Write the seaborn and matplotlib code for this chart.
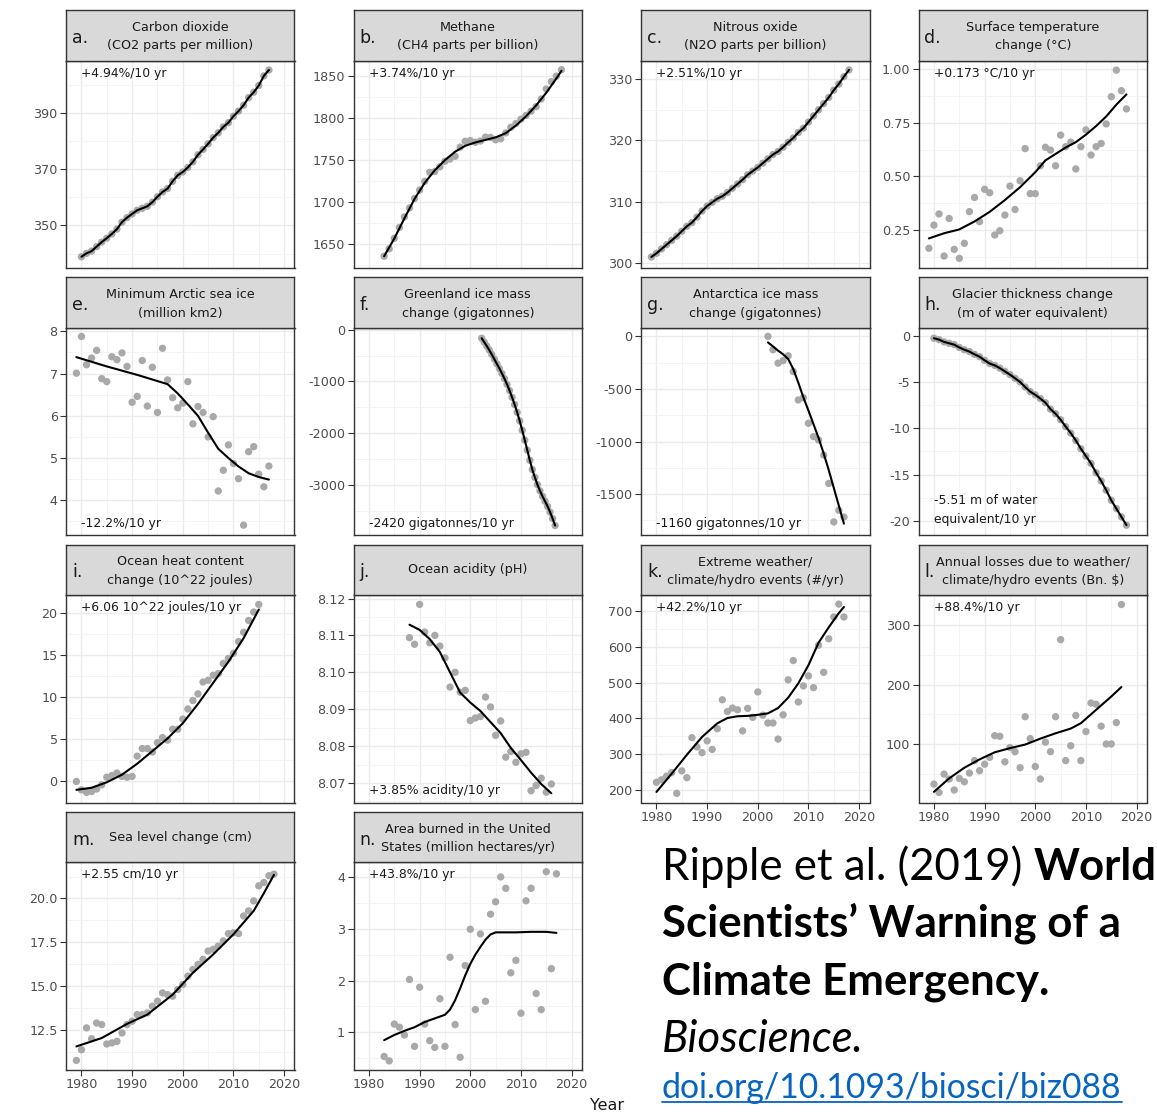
import numpy as np
import matplotlib
matplotlib.use("Agg")
import matplotlib.pyplot as plt
import seaborn as sns
from matplotlib.ticker import MultipleLocator, AutoMinorLocator, FixedLocator, FormatStrFormatter
from matplotlib.transforms import blended_transform_factory
from matplotlib.lines import Line2D

# ---------------------------------------------------------------- data
YEARS = [1979, 1980, 1981, 1982, 1983, 1984, 1985, 1986, 1987, 1988,
         1989, 1990, 1991, 1992, 1993, 1994, 1995, 1996, 1997, 1998,
         1999, 2000, 2001, 2002, 2003, 2004, 2005, 2006, 2007, 2008,
         2009, 2010, 2011, 2012, 2013, 2014, 2015, 2016, 2017, 2018]

# a. CO2 (1980-2017)
co2_years = YEARS[1:39]
co2 = [338.9, 340.1, 340.9, 342.5, 344.1, 345.5, 347.0, 348.7, 351.2, 352.8,
       354.1, 355.4, 356.1, 356.8, 358.3, 360.2, 361.9, 363.1, 365.7, 367.8,
       369.0, 370.6, 372.6, 375.1, 377.0, 379.0, 381.2, 382.9, 385.0, 386.5,
       388.8, 390.6, 392.7, 395.4, 397.3, 399.7, 403.1, 405.2]

# b. CH4 (1983-2018)
ch4_years = YEARS[4:40]
ch4 = [1636.0, 1644.8, 1657.3, 1670.1, 1682.7, 1693.3, 1704.5, 1714.4, 1724.8, 1735.5,
       1736.5, 1742.1, 1748.6, 1751.3, 1754.6, 1765.5, 1772.4, 1773.2, 1771.2, 1772.7,
       1777.3, 1777.0, 1774.2, 1775.3, 1782.3, 1789.0, 1793.5, 1798.6, 1803.1, 1808.1,
       1813.5, 1822.6, 1834.4, 1843.2, 1849.7, 1857.3]
ch4_fit_years = [1983, 1985, 1987, 1989, 1991, 1993, 1995, 1997, 1999, 2001,
                 2003, 2005, 2007, 2009, 2011, 2013, 2015, 2017, 2018]
ch4_fit = [1636, 1657, 1681, 1704, 1723, 1738, 1750, 1760, 1767, 1771,
           1774, 1777, 1782, 1791, 1802, 1815, 1830, 1847, 1856]

# c. N2O (1979-2018)
n2o_years = YEARS[0:40]
n2o = [301.0, 301.6, 302.3, 303.0, 303.7, 304.4, 305.2, 306.0, 306.6, 307.5,
       308.5, 309.3, 309.9, 310.5, 310.9, 311.5, 312.2, 312.9, 313.6, 314.4,
       315.0, 315.6, 316.3, 317.0, 317.7, 318.2, 318.9, 319.7, 320.4, 321.3,
       322.0, 323.0, 324.0, 325.0, 326.0, 327.0, 328.2, 329.2, 330.4, 331.5]

# d. surface temperature (1979-2018)
temp_years = YEARS[0:40]
temp = [0.165, 0.273, 0.325, 0.129, 0.304, 0.160, 0.118, 0.188, 0.336, 0.402,
        0.289, 0.440, 0.424, 0.227, 0.247, 0.320, 0.455, 0.346, 0.480, 0.630,
        0.420, 0.420, 0.550, 0.636, 0.623, 0.550, 0.693, 0.639, 0.660, 0.535,
        0.639, 0.717, 0.600, 0.639, 0.654, 0.745, 0.872, 0.996, 0.900, 0.815]
temp_fit_years = [1979, 1982, 1985, 1988, 1991, 1994, 1997, 2000, 2002, 2004,
                  2006, 2008, 2010, 2012, 2014, 2016, 2018]
temp_fit = [0.211, 0.235, 0.253, 0.290, 0.335, 0.390, 0.450, 0.520, 0.575, 0.605,
            0.635, 0.660, 0.695, 0.735, 0.780, 0.835, 0.883]

# e. Arctic sea ice (1979-2017)
ice_years = YEARS[0:39]
ice = [7.01, 7.88, 7.21, 7.37, 7.55, 6.88, 6.81, 7.40, 7.33, 7.49,
       7.17, 6.32, 6.46, 7.31, 6.23, 7.15, 6.08, 7.60, 6.85, 6.43,
       6.19, 6.30, 6.81, 5.81, 6.22, 6.08, 5.50, 5.98, 4.22, 4.71,
       5.31, 4.87, 4.51, 3.41, 5.15, 5.27, 4.62, 4.32, 4.81]
ice_fit_years = [1979, 1982, 1985, 1988, 1991, 1994, 1997, 1999, 2001, 2003,
                 2005, 2007, 2009, 2011, 2013, 2015, 2017]
ice_fit = [7.39, 7.28, 7.17, 7.07, 6.97, 6.86, 6.75, 6.53, 6.27, 6.00,
           5.60, 5.22, 5.00, 4.80, 4.64, 4.55, 4.49]

# f. Greenland ice mass (GRACE, half-yearly)
green_years = [2002.25, 2002.75, 2003.25, 2003.75, 2004.25, 2004.75, 2005.25, 2005.75,
               2006.25, 2006.75, 2007.25, 2007.75, 2008.25, 2008.75, 2009.25, 2009.75,
               2010.25, 2010.75, 2011.25, 2011.75, 2012.25, 2012.75, 2013.25, 2013.75,
               2014.25, 2014.75, 2015.25, 2015.75, 2016.25, 2016.75]
green = [-165, -240, -315, -395, -480, -570, -660, -750,
         -845, -945, -1055, -1175, -1305, -1445, -1595, -1760,
         -1940, -2130, -2325, -2520, -2700, -2850, -2990, -3110,
         -3215, -3310, -3410, -3520, -3645, -3780]

# g. Antarctica ice mass (2002-2017)
ant_years = YEARS[23:39]
ant = [0, -127, -254, -230, -184, -334, -604, -582, -826, -953,
       -985, -1128, -1398, -1764, -1653, -1717]
ant_fit_years = [2002, 2003, 2004, 2005, 2006, 2007, 2008, 2009, 2010, 2011,
                 2012, 2013, 2014, 2015, 2016, 2017]
ant_fit = [-57, -95, -135, -170, -215, -310, -440, -580, -705, -835,
           -965, -1112, -1270, -1440, -1610, -1780]

# h. glacier thickness (1980-2018)
glac_years = YEARS[1:40]
glac = [-0.2, -0.35, -0.6, -0.75, -0.9, -1.2, -1.45, -1.65, -1.95, -2.2,
        -2.6, -2.95, -3.15, -3.45, -3.8, -4.15, -4.55, -4.95, -5.5, -6.0,
        -6.35, -6.75, -7.2, -7.9, -8.4, -9.05, -9.8, -10.5, -11.3, -12.2,
        -13.0, -13.8, -14.8, -15.7, -16.7, -17.8, -18.7, -19.6, -20.5]

# i. ocean heat content (1979-2015)
ohc_years = YEARS[0:37]
ohc = [0.0, -1.0, -1.3, -1.2, -0.9, -0.4, 0.5, 0.7, 1.0, 0.6,
       0.5, 0.6, 3.0, 3.9, 3.9, 3.5, 4.6, 5.2, 4.9, 6.2,
       6.2, 7.4, 8.6, 9.6, 10.4, 11.8, 12.0, 12.6, 12.8, 14.0,
       14.6, 15.2, 16.6, 17.7, 19.1, 20.1, 21.0]
ohc_fit_years = [1979, 1982, 1985, 1988, 1991, 1994, 1997, 2000, 2003, 2006,
                 2009, 2012, 2015]
ohc_fit = [-1.0, -0.75, -0.1, 0.8, 2.1, 3.6, 5.1, 6.9, 9.2, 11.7,
           14.2, 17.0, 20.4]

# j. ocean acidity (1988-2016)
ph_years = YEARS[9:38]
ph = [8.1094, 8.1076, 8.1184, 8.1109, 8.1080, 8.1100, 8.1071, 8.1039, 8.0960, 8.1000,
      8.0946, 8.0951, 8.0869, 8.0876, 8.0880, 8.0933, 8.0906, 8.0829, 8.0868, 8.0770,
      8.0785, 8.0756, 8.0779, 8.0783, 8.0679, 8.0693, 8.0713, 8.0675, 8.0697]
ph_fit_years = [1988, 1990, 1992, 1994, 1996, 1998, 2000, 2002, 2004, 2006,
                2008, 2010, 2012, 2014, 2016]
ph_fit = [8.1129, 8.1115, 8.1090, 8.1055, 8.1000, 8.0945, 8.0918, 8.0895, 8.0865, 8.0835,
          8.0795, 8.0762, 8.0728, 8.0697, 8.0672]

# k. extreme weather events (1980-2017)
evt_years = YEARS[1:39]
evt = [221, 228, 238, 248, 190, 253, 234, 346, 320, 304,
       337, 313, 371, 452, 419, 429, 424, 365, 428, 403,
       474, 409, 387, 387, 342, 410, 508, 562, 446, 491,
       519, 486, 605, 529, 623, 684, 720, 684]
evt_fit_years = [1980, 1983, 1986, 1989, 1992, 1994, 1996, 1998, 2000, 2002,
                 2004, 2006, 2008, 2010, 2012, 2014, 2016, 2017]
evt_fit = [194, 245, 298, 348, 386, 401, 406, 407, 410, 414,
           429, 458, 498, 549, 612, 655, 695, 712]

# l. annual losses (1980-2017)
loss_years = YEARS[1:39]
loss = [32.4, 18.3, 49.3, 40.8, 22.5, 42.0, 36.3, 51.0, 72.0, 55.0,
        66.0, 77.5, 114.0, 113.0, 70.0, 94.0, 87.0, 60.0, 146.0, 109.0,
        62.0, 41.0, 103.0, 87.0, 146.0, 275.8, 72.0, 97.0, 148.0, 72.0,
        121.0, 169.0, 167.0, 130.0, 100.0, 100.0, 136.0, 335.0]
loss_fit_years = [1980, 1983, 1986, 1989, 1992, 1995, 1998, 2001, 2004, 2007,
                  2009, 2011, 2013, 2015, 2017]
loss_fit = [19.4, 42, 60, 74, 86, 93, 99, 109, 118, 126,
            135, 150, 165, 180, 196]

# m. sea level (1979-2018)
sea_years = YEARS[0:40]
sea = [10.74, 11.35, 12.60, 11.98, 12.88, 12.79, 11.68, 11.74, 11.83, 12.31,
       12.79, 12.98, 13.36, 13.36, 13.46, 13.84, 14.13, 14.60, 14.50, 14.41,
       14.79, 15.08, 15.56, 15.94, 16.23, 16.52, 16.99, 17.09, 17.28, 17.57,
       17.99, 18.04, 17.99, 19.00, 19.29, 19.86, 20.72, 20.91, 21.30, 21.39]
sea_fit_years = [1979, 1984, 1989, 1993, 1998, 2002, 2006, 2010, 2014, 2016, 2018]
sea_fit = [11.54, 12.02, 12.83, 13.36, 14.50, 15.75, 16.80, 17.95, 19.29, 20.30, 21.35]

# n. area burned (1983-2017)
fire_years = YEARS[4:39]
fire = [0.535, 0.45, 1.16, 1.10, 0.95, 2.02, 0.73, 1.87, 1.16, 0.84,
        0.71, 1.65, 0.73, 2.45, 1.15, 0.52, 2.29, 2.99, 1.44, 2.90,
        1.60, 3.28, 3.52, 4.00, 3.78, 2.15, 2.39, 1.37, 3.54, 3.78,
        1.75, 1.44, 4.10, 2.23, 4.06]
fire_fit_years = [1983, 1985, 1987, 1989, 1991, 1993, 1995, 1996, 1997, 1998,
                  1999, 2000, 2001, 2002, 2003, 2004, 2005, 2006, 2009, 2012,
                  2015, 2017]
fire_fit = [0.85, 0.95, 1.03, 1.10, 1.20, 1.27, 1.34, 1.44, 1.62, 1.85,
            2.10, 2.32, 2.50, 2.65, 2.79, 2.89, 2.93, 2.93, 2.93, 2.94,
            2.94, 2.92]

LETTERS = ["a.", "b.", "c.", "d.", "e.", "f.", "g.", "h.", "i.", "j.", "k.", "l.", "m.", "n."]
TITLES = ["Carbon dioxide\n(CO2 parts per million)",
          "Methane\n(CH4 parts per billion)",
          "Nitrous oxide\n(N2O parts per billion)",
          "Surface temperature\nchange (°C)",
          "Minimum Arctic sea ice\n(million km2)",
          "Greenland ice mass\nchange (gigatonnes)",
          "Antarctica ice mass\nchange (gigatonnes)",
          "Glacier thickness change\n(m of water equivalent)",
          "Ocean heat content\nchange (10^22 joules)",
          "Ocean acidity (pH)",
          "Extreme weather/\nclimate/hydro events (#/yr)",
          "Annual losses due to weather/\nclimate/hydro events (Bn. $)",
          "Sea level change (cm)",
          "Area burned in the United\nStates (million hectares/yr)"]
TRENDS = ["+4.94%/10 yr", "+3.74%/10 yr", "+2.51%/10 yr", "+0.173 °C/10 yr",
          "-12.2%/10 yr", "-2420 gigatonnes/10 yr", "-1160 gigatonnes/10 yr",
          "-5.51 m of water\nequivalent/10 yr", "+6.06 10^22 joules/10 yr",
          "+3.85% acidity/10 yr", "+42.2%/10 yr", "+88.4%/10 yr",
          "+2.55 cm/10 yr", "+43.8%/10 yr"]
TREND_POS = ["top", "top", "top", "top", "bottom", "bottom", "bottom", "bottom2",
             "top", "bottom", "top", "top", "top", "top"]

POINTS = [(co2_years, co2), (ch4_years, ch4), (n2o_years, n2o), (temp_years, temp),
          (ice_years, ice), (green_years, green), (ant_years, ant), (glac_years, glac),
          (ohc_years, ohc), (ph_years, ph), (evt_years, evt), (loss_years, loss),
          (sea_years, sea), (fire_years, fire)]
FITS = [(co2_years, co2), (ch4_fit_years, ch4_fit), (n2o_years, n2o),
        (temp_fit_years, temp_fit), (ice_fit_years, ice_fit), (green_years, green),
        (ant_fit_years, ant_fit), (glac_years, glac), (ohc_fit_years, ohc_fit),
        (ph_fit_years, ph_fit), (evt_fit_years, evt_fit), (loss_fit_years, loss_fit),
        (sea_fit_years, sea_fit), (fire_fit_years, fire_fit)]

YTICKS = [[350, 370, 390], [1650, 1700, 1750, 1800, 1850], [300, 310, 320, 330],
          [0.25, 0.50, 0.75, 1.00], [4, 5, 6, 7, 8], [-3000, -2000, -1000, 0],
          [-1500, -1000, -500, 0], [-20, -15, -10, -5, 0], [0, 5, 10, 15, 20],
          [8.07, 8.08, 8.09, 8.10, 8.11, 8.12], [200, 300, 400, 500, 600, 700],
          [100, 200, 300], [12.5, 15.0, 17.5, 20.0], [1, 2, 3, 4]]
YFMT = ["%d", "%d", "%d", "%.2f", "%d", "%d", "%d", "%d", "%d", "%.2f", "%d", "%d", "%.1f", "%d"]
YLIMS = [(334.9, 408.5), (1622, 1868), (299.2, 333.0), (0.073, 1.04), (3.17, 8.08),
         (-3968, 32), (-1891, 80), (-21.6, 0.91), (-2.5, 22.1), (8.0647, 8.1209),
         (164.4, 745), (1.4, 350.7), (10.21, 22.06), (0.28, 4.28)]
XLIM = (1976.95, 2022.05)
XBREAKS = [1980, 1990, 2000, 2010, 2020]
SHOW_X = [False] * 10 + [True] * 4

# ---------------------------------------------------------------- style
sns.set_theme(style="white")
plt.rcParams["font.family"] = ["DejaVu Sans"]

W, H = 1157, 1113
COL_LEFT = [66, 353.5, 641, 918.5]
PANEL_W = 228.5
ROW_TOP = [10, 277.3, 544.5, 811.7]
STRIP_H = 50.7
PLOT_H = 207.3
PT_COLOR = "#A9A9A9"
BORDER = "#333333"
TXT = "#1A1A1A"
TICK_TXT = "#4D4D4D"

fig = plt.figure(figsize=(W / 100, H / 100), dpi=100)
fig.patch.set_facecolor("white")


def rect(x, y, w, h):
    return [x / W, 1 - (y + h) / H, w / W, h / H]


for i in range(14):
    r, c = divmod(i, 4)
    left, top = COL_LEFT[c], ROW_TOP[r]
    ax = fig.add_axes(rect(left, top + STRIP_H, PANEL_W, PLOT_H))
    sax = fig.add_axes(rect(left, top, PANEL_W, STRIP_H))

    px, py = POINTS[i]
    fx, fy = FITS[i]
    assert len(px) == len(py) and len(fx) == len(fy)
    sns.scatterplot(x=px, y=py, ax=ax, color=PT_COLOR, s=28, edgecolor="none",
                    linewidth=0, zorder=3, legend=False)
    sns.lineplot(x=fx, y=fy, ax=ax, color="black", linewidth=1.5, zorder=4,
                 estimator=None, sort=False)

    ax.set_xlim(*XLIM)
    ax.set_ylim(*YLIMS[i])
    ax.set_xlabel("")
    ax.set_ylabel("")
    ax.xaxis.set_major_locator(FixedLocator(XBREAKS))
    ax.xaxis.set_minor_locator(MultipleLocator(5))
    ax.yaxis.set_major_locator(FixedLocator(YTICKS[i]))
    ax.yaxis.set_minor_locator(AutoMinorLocator(2))
    ax.yaxis.set_major_formatter(FormatStrFormatter(YFMT[i]))
    ax.set_axisbelow(True)
    ax.grid(which="major", color="#EBEBEB", linewidth=1.0)
    ax.grid(which="minor", color="#F3F3F3", linewidth=0.6)
    ax.tick_params(axis="y", which="major", left=True, length=4, width=0.8,
                   color=BORDER, labelsize=9.2, labelcolor=TICK_TXT, pad=2)
    ax.tick_params(axis="y", which="minor", left=False, length=0)
    if SHOW_X[i]:
        ax.tick_params(axis="x", which="major", bottom=True, length=4, width=0.8,
                       color=BORDER, labelsize=9.2, labelcolor=TICK_TXT, pad=2,
                       labelbottom=True)
    else:
        ax.tick_params(axis="x", which="major", bottom=False, length=0, labelbottom=False)
    ax.tick_params(axis="x", which="minor", bottom=False, length=0)
    for s in ax.spines.values():
        s.set_color(BORDER)
        s.set_linewidth(1.0)

    # trend annotation
    tr = blended_transform_factory(ax.transData, ax.transAxes)
    pos = TREND_POS[i]
    if pos == "top":
        ax.text(1980, 1 - 12.5 / PLOT_H, TRENDS[i], transform=tr, ha="left",
                va="center", fontsize=8.9, color=TXT, zorder=6)
    elif pos == "bottom":
        ax.text(1980, 12.0 / PLOT_H, TRENDS[i], transform=tr, ha="left",
                va="center", fontsize=8.9, color=TXT, zorder=6)
    else:
        ax.text(1980, 25.0 / PLOT_H, TRENDS[i], transform=tr, ha="left",
                va="center", fontsize=8.9, color=TXT, linespacing=1.6, zorder=6)

    # strip
    sax.set_facecolor("#D9D9D9")
    sax.set_xticks([])
    sax.set_yticks([])
    for s in sax.spines.values():
        s.set_color(BORDER)
        s.set_linewidth(1.0)
    two = "\n" in TITLES[i]
    sax.text(0.5, 0.475 if two else 0.5, TITLES[i], transform=sax.transAxes,
             ha="center", va="center", fontsize=9.2, color=TXT, linespacing=1.55)
    sax.text(0.026, 0.45, LETTERS[i], transform=sax.transAxes, ha="left",
             va="center", fontsize=12.5, color=TXT)

fig.text(607 / W, 1 - 1105 / H, "Year", ha="center", va="center", fontsize=11.5, color=TXT)

# ---------------------------------------------------------------- citation
CITE_FONT = "Lato"
FS = 31.5
renderer = fig.canvas.get_renderer()
x0 = 662
t1 = fig.text(x0 / W, 1 - 880 / H, "Ripple et al. (2019)", fontsize=FS, family=CITE_FONT,
              va="baseline", ha="left", color="black")
bb = t1.get_window_extent(renderer)
fig.text((bb.x1 + 0.26 * FS * 100 / 72) / W, 1 - 880 / H, "World", fontsize=FS,
         family=CITE_FONT, weight="bold", va="baseline", ha="left", color="black")
fig.text(x0 / W, 1 - 937 / H, "Scientists\u2019 Warning of a", fontsize=FS, family=CITE_FONT,
         weight="bold", va="baseline", ha="left", color="black")
fig.text(x0 / W, 1 - 995 / H, "Climate Emergency.", fontsize=FS, family=CITE_FONT,
         weight="bold", va="baseline", ha="left", color="black")
fig.text(x0 / W, 1 - 1052 / H, "Bioscience.", fontsize=FS, family=CITE_FONT,
         style="italic", va="baseline", ha="left", color="black")
t5 = fig.text(x0 / W, 1 - 1098 / H, "doi.org/10.1093/biosci/biz088", fontsize=24.3,
              family=CITE_FONT, va="baseline", ha="left", color="#0563C1")
bb5 = t5.get_window_extent(renderer)
uy = 1 - 1102 / H
fig.add_artist(Line2D([bb5.x0 / W, bb5.x1 / W], [uy, uy], color="#0563C1", linewidth=1.3,
                      transform=fig.transFigure))

fig.savefig("out.png", dpi=100, facecolor="white")
